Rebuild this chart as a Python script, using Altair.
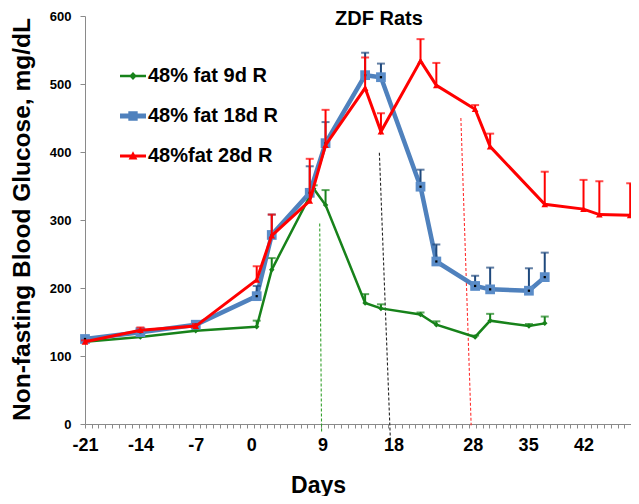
import altair as alt
import pandas as pd

FONT = "Liberation Sans"

series_names = ["48% fat 9d R", "48% fat 18d R", "48%fat 28d R"]

days_9 = [-21, -14, -7, 0.7, 2.6, 7.9, 9.4, 14.4, 16.4, 21.4, 23.4, 28.3, 30.2, 35.1, 37.1]
glu_9 = [121, 128, 137, 143, 227, 346, 322, 178, 170, 161, 146, 128, 152, 144, 148]
err_9 = [123, 130, 139, 152, 244, 351, 344, 191, 176, 164, 151, 130, 162, 147, 158]

days_18 = [-21, -14, -7, 0.7, 2.6, 7.4, 9.4, 14.4, 16.4, 21.4, 23.4, 28.3, 30.2, 35.1, 37.1]
glu_18 = [125, 135, 146, 188, 278, 340, 413, 513, 510, 349, 239, 203, 198, 196, 216]
err_18 = [127, 137, 148, 203, 308, 379, 444, 546, 530, 374, 264, 218, 230, 229, 252]

days_28 = [-21, -14, -7, 0.7, 2.6, 7.4, 9.4, 14.4, 16.4, 21.4, 23.4, 28.3, 30.2, 37.1, 42, 44, 47.9]
glu_28 = [121, 138, 144, 212, 277, 328, 410, 494, 430, 534, 498, 463, 408, 323, 316, 308, 307]
err_28 = [123, 142, 147, 232, 308, 390, 462, 539, 457, 566, 531, 469, 427, 371, 359, 357, 354]

# dashed marker lines (slightly slanted in the original)
cut_names = ["9d", "18d", "28d"]
cut_day_top = [8.66, 16.2, 26.5]
cut_val_top = [295, 399, 450]
cut_day_bot = [8.9, 17.6, 27.8]
cut_val_bot = [-12, -26, -2]

x_major = [-21, -14, -7, 0, 9, 18, 28, 35, 42]
y_ticks = [0, 100, 200, 300, 400, 500, 600]

# ---------------------------------------------------------------------------
frames = []
for name, d, g, e in [(series_names[0], days_9, glu_9, err_9),
                      (series_names[1], days_18, glu_18, err_18),
                      (series_names[2], days_28, glu_28, err_28)]:
    frames.append(pd.DataFrame({"series": name, "day": d, "glu": g, "err": e}))
df = pd.concat(frames, ignore_index=True)

cuts = pd.DataFrame({"cut": cut_names, "d1": cut_day_top, "v1": cut_val_top,
                     "d2": cut_day_bot, "v2": cut_val_bot})

minor_step = 69 / 81
minor = [round(-21 + i * minor_step, 4) for i in range(82)]
x_values = sorted(set(minor + x_major))
maj_str = ",".join(str(v) for v in x_major)
maj_no_first = ",".join(str(v) for v in x_major[1:])

xscale = alt.Scale(domain=[-21, 48], nice=False, zero=False)
yscale = alt.Scale(domain=[0, 600], nice=False)

xaxis = alt.Axis(
    values=x_values,
    labelExpr=f"indexof([{maj_str}], datum.value) >= 0 ? toString(datum.value) : ''",
    tickOpacity={"condition": {"test": f"indexof([{maj_no_first}], datum.value) >= 0", "value": 0}, "value": 1},
    labelOverlap=False, labelFlush=False, tickSize=4, labelPadding=8,
    labelFont=FONT, labelFontSize=18, labelFontWeight="bold", labelColor="black",
    titleFont=FONT, titleFontSize=23, titleFontWeight="bold", titleColor="black",
    titleX=233, titleY=50, titleBaseline="top", titleAlign="center",
    domainColor="#8a8a8a", tickColor="#8a8a8a", grid=False,
)
yaxis = alt.Axis(
    values=y_ticks, tickSize=5, labelPadding=9,
    labelFont=FONT, labelFontSize=13, labelFontWeight="bold", labelColor="black",
    titleFont=FONT, titleFontSize=24.5, titleFontWeight="bold", titleColor="black",
    titleX=-51, titleY=203, titleAngle=270, titleBaseline="bottom", titleAlign="center",
    domainColor="#8a8a8a", tickColor="#8a8a8a", grid=False,
)

X = alt.X("day:Q", scale=xscale, axis=xaxis, title="Days")
Y = alt.Y("glu:Q", scale=yscale, axis=yaxis, title="Non-fasting Blood Glucose, mg/dL")

base = alt.Chart(df)

style = {
    series_names[0]: dict(line="#17821a", width=2.5, err="#17821a", shape="diamond", size=30, fill="#17821a"),
    series_names[1]: dict(line="#4f81bd", width=4.5, err="#1f497d", shape="square", size=95, fill="#5a8cc8"),
    series_names[2]: dict(line="#ff0000", width=3, err="#ff0000", shape="triangle-up", size=45, fill="#ff0000"),
}

cut_colors = alt.Scale(domain=cut_names, range=["#33a02c", "#222222", "#ff3030"])
cut_layer = alt.Chart(cuts).mark_rule(strokeDash=[3, 2], strokeWidth=1.1).encode(
    x=alt.X("d1:Q", scale=xscale, axis=xaxis, title="Days"),
    x2="d2:Q",
    y=alt.Y("v1:Q", scale=yscale, axis=yaxis, title="Non-fasting Blood Glucose, mg/dL"),
    y2="v2:Q",
    stroke=alt.Stroke("cut:N", scale=cut_colors, legend=None),
)

layers = [cut_layer]
for name in series_names:
    s = style[name]
    sub = base.transform_filter(alt.datum.series == name)
    layers.append(sub.mark_line(color=s["line"], strokeWidth=s["width"]).encode(x=X, y=Y, order="day:Q"))
    layers.append(sub.mark_rule(color=s["err"], strokeWidth=2).encode(x=X, y=Y, y2="err:Q"))
    layers.append(sub.mark_tick(color=s["err"], orient="horizontal", size=8, thickness=2).encode(
        x=X, y=alt.Y("err:Q", scale=yscale, axis=yaxis, title="Non-fasting Blood Glucose, mg/dL")))
    layers.append(sub.mark_point(shape=s["shape"], filled=True, size=s["size"], color=s["fill"], opacity=1).encode(x=X, y=Y))
    if name == series_names[1]:
        layers.append(sub.mark_point(shape="square", filled=True, size=5, color="black", opacity=1).encode(x=X, y=Y))

legend = alt.Legend(
    title=None, orient="none", legendX=35, legendY=47, direction="vertical",
    labelFont=FONT, labelFontSize=20, labelFontWeight="bold", labelColor="black",
    symbolSize=676, symbolStrokeWidth=0, symbolOpacity=1, rowPadding=17, labelOffset=2, padding=0,
)
legend_paths = [
    "M-1,-0.09H1V0.09H-1Z M0,-0.3L0.3,0L0,0.3L-0.3,0Z",
    "M-1,-0.19H1V0.19H-1Z M-0.36,-0.36H0.36V0.36H-0.36Z",
    "M-1,-0.12H1V0.12H-1Z M0,-0.36L0.34,0.26L-0.34,0.26Z",
]
legend_layer = base.transform_filter("datum.day > 1000").mark_point(filled=True).encode(
    x=X, y=Y,
    fill=alt.Fill("series:N", scale=alt.Scale(domain=series_names,
                                              range=[style[n]["line"] for n in series_names]), legend=legend),
    shape=alt.Shape("series:N", scale=alt.Scale(domain=series_names, range=legend_paths), legend=legend),
)
layers.append(legend_layer)

chart = alt.layer(*layers).properties(
    width=546, height=408,
    title=alt.TitleParams("ZDF Rats", font=FONT, fontSize=20, fontWeight="bold", color="black",
                          anchor="middle", frame="group", offset=0, baseline="middle", dx=21, dy=29),
    padding={"left": 77, "top": 8, "right": 0, "bottom": 72},
    autosize="none",
).configure_view(stroke=None).configure_axis(grid=False)

chart.save("out.html", embed_options={"renderer": "svg", "actions": False})
